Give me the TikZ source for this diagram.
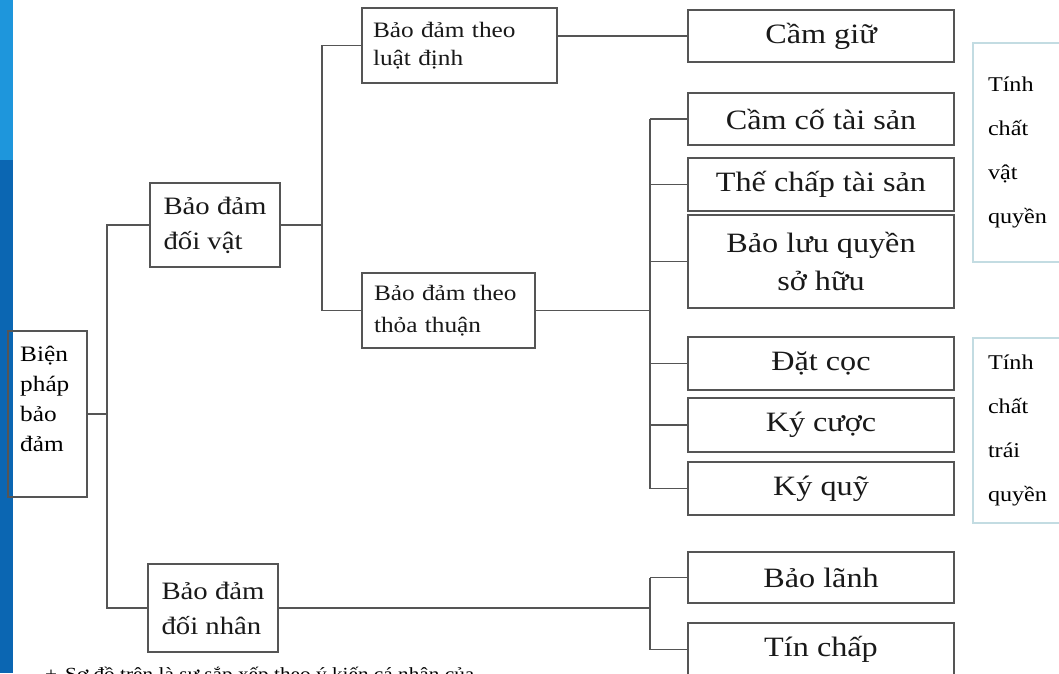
\documentclass[tikz,border=0pt]{standalone}
\usepackage{fontspec}
\setmainfont{Liberation Serif}[FakeStretch=1.15]
\usetikzlibrary{calc}

\definecolor{striplight}{HTML}{1E96DC}
\definecolor{stripdark}{HTML}{0B66B2}
\definecolor{linegray}{HTML}{555555}
\definecolor{tealedge}{HTML}{C3DCE2}

\begin{document}
\begin{tikzpicture}[x=1pt,y=-1pt,
	box/.style={draw=linegray,line width=1.3pt,fill=white,inner sep=0pt,text=black!90},
	bigbox/.style={box,minimum width=266pt,align=center,font=\fontsize{28}{38}\selectfont},
	midbox/.style={box,minimum width=130pt,minimum height=84pt,align=left,font=\fontsize{25}{35}\selectfont},
	smallbox/.style={box,minimum height=75pt,align=left,font=\fontsize{22}{28}\selectfont},
	notebox/.style={draw=tealedge,line width=1.6pt,inner sep=0pt,minimum width=97pt,text width=67pt,align=left,font=\fontsize{21}{44}\selectfont},
	link/.style={draw=linegray,line width=1.2pt}]
	\pgfmathsetmacro{\leafx}{821}		%centre of the right column
	\useasboundingbox (0,0) rectangle (1059,673);
	\clip (0,0) rectangle (1059,673);

	%blue strip on the left
	\fill[striplight] (0,0) rectangle (13,160);
	\fill[stripdark] (0,160) rectangle (13,673);

	%root
	\node[draw=linegray,line width=1.3pt,minimum width=79pt,minimum height=166pt] (root) at (47.5,414) {};
	\node[anchor=north west,inner sep=0pt,align=left,font=\fontsize{22}{30}\selectfont] (rootlabel) at (20,346) {Biện\\pháp\\bảo\\đảm};

	%second level
	\node[midbox] (doivat) at (215,225) {Bảo đảm\\đối vật};
	\node[midbox,minimum height=88pt] (doinhan) at (213,608) {Bảo đảm\\đối nhân};

	%third level
	\node[smallbox,minimum width=195pt,text width=173pt] (luatdinh) at (459.5,45.5) {Bảo đảm theo\\luật định};
	\node[smallbox,minimum width=173pt,text width=149pt,font=\fontsize{22}{32}\selectfont] (thoathuan) at (448.5,310.5) {Bảo đảm theo\\thỏa thuận};

	%leaves
	\node[bigbox,minimum height=52pt] (camgiu) at (\leafx,36) {Cầm giữ};
	\node[bigbox,minimum height=52pt] (camco) at (\leafx,119) {Cầm cố tài sản};
	\node[bigbox,minimum height=53pt] (thechap) at (\leafx,184.5) {Thế chấp tài sản};
	\node[bigbox,minimum height=93pt] (baoluu) at (\leafx,261.5) {Bảo lưu quyền\\sở hữu};
	\node[bigbox,minimum height=53pt] (datcoc) at (\leafx,363.5) {Đặt cọc};
	\node[bigbox,minimum height=54pt] (kycuoc) at (\leafx,425) {Ký cược};
	\node[bigbox,minimum height=53pt] (kyquy) at (\leafx,488.5) {Ký quỹ};
	\node[bigbox,minimum height=51pt] (baolanh) at (\leafx,577.5) {Bảo lãnh};
	\node[bigbox,minimum height=53pt] (tinchap) at (\leafx,649.5) {Tín chấp};

	%side notes
	\node[notebox,minimum height=219pt] (vatquyen) at (1021.5,152.5) {Tính\\chất\\vật\\quyền};
	\node[notebox,minimum height=185pt] (traiquyen) at (1021.5,430.5) {Tính\\chất\\trái\\quyền};

	%buses
	\coordinate (busA) at (107,0);
	\coordinate (busB) at (322,0);
	\coordinate (busC) at (650,0);

	\draw[link] (root.east) -- (root.east -| busA);
	\draw[link] (doivat.west) -- (doivat.west -| busA) -- (doinhan.west -| busA) -- (doinhan.west);
	\draw[link] (doivat.east) -- (doivat.east -| busB);
	\draw[link] (luatdinh.west) -- (luatdinh.west -| busB) -- (thoathuan.west -| busB) -- (thoathuan.west);
	\draw[link] (luatdinh.east |- camgiu.west) -- (camgiu.west);
	\draw[link] (thoathuan.east) -- (thoathuan.east -| busC);
	\draw[link] (camco.west -| busC) -- (kyquy.west -| busC);
	\foreach \leaf in {camco,thechap,baoluu,datcoc,kycuoc,kyquy}
		\draw[link] (\leaf.west -| busC) -- (\leaf.west);
	\draw[link] (doinhan.east) -- (doinhan.east -| busC);
	\draw[link] (baolanh.west -| busC) -- (tinchap.west -| busC);
	\foreach \leaf in {baolanh,tinchap}
		\draw[link] (\leaf.west -| busC) -- (\leaf.west);

	%note under the chart, cut by the page
	\node[anchor=base west,inner sep=0pt,font=\fontsize{18.5}{20}\selectfont] (remark) at (45,680) {+\hspace{8pt}Sơ đồ trên là sự sắp xếp theo ý kiến cá nhân của};
\end{tikzpicture}
\end{document}
